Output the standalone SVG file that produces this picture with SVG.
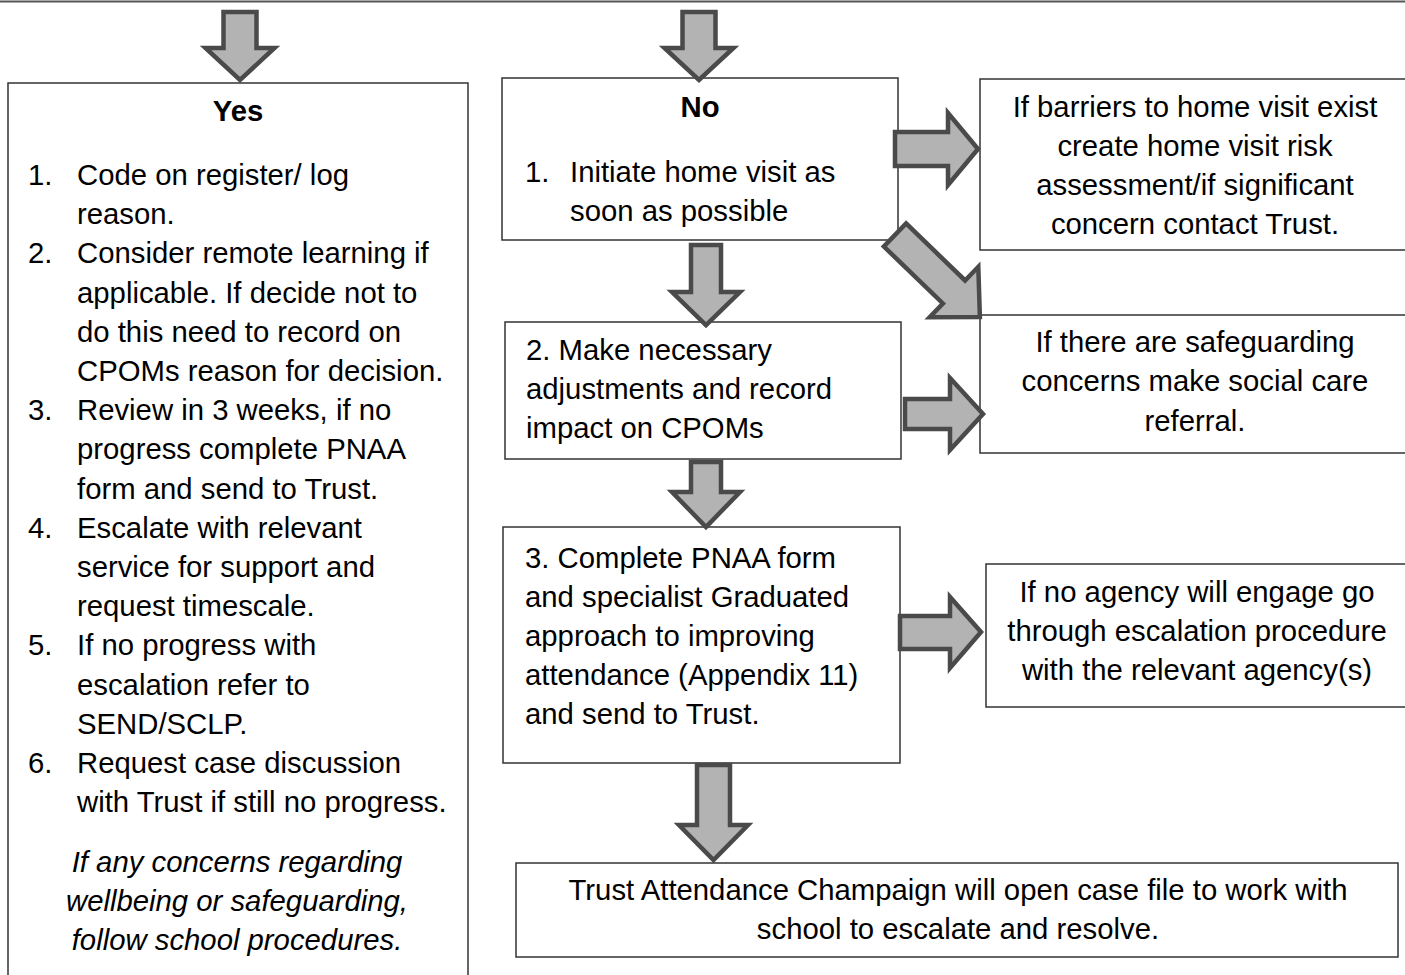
<svg xmlns="http://www.w3.org/2000/svg" width="1405" height="975" viewBox="0 0 1405 975">
<style>
.box{fill:#fff;stroke:#333;stroke-width:1.5}
.arr{fill:#b3b3b3;stroke:#4a4a4a;stroke-width:4.5;stroke-linejoin:miter}
text{font-family:"Liberation Sans",Arial,sans-serif;font-size:29.3px;fill:#000}
.b{font-weight:bold}
.c{text-anchor:middle}
.i{font-style:italic}
</style>
<rect width="1405" height="975" fill="#fff"/>
<line x1="0" y1="1.5" x2="1405" y2="1.5" stroke="#555" stroke-width="2"/>

<g id="yes">
<rect class="box" x="8" y="83" width="460" height="920"/>
<text class="b c" x="238" y="121">Yes</text>
<text x="28" y="185">1.</text><text x="77" y="185">Code on register/ log</text>
<text x="77" y="224.2">reason.</text>
<text x="28" y="263.4">2.</text><text x="77" y="263.4">Consider remote learning if</text>
<text x="77" y="302.6">applicable. If decide not to</text>
<text x="77" y="341.8">do this need to record on</text>
<text x="77" y="381">CPOMs reason for decision.</text>
<text x="28" y="420.2">3.</text><text x="77" y="420.2">Review in 3 weeks, if no</text>
<text x="77" y="459.4">progress complete PNAA</text>
<text x="77" y="498.6">form and send to Trust.</text>
<text x="28" y="537.8">4.</text><text x="77" y="537.8">Escalate with relevant</text>
<text x="77" y="577">service for support and</text>
<text x="77" y="616.2">request timescale.</text>
<text x="28" y="655.4">5.</text><text x="77" y="655.4">If no progress with</text>
<text x="77" y="694.6">escalation refer to</text>
<text x="77" y="733.8">SEND/SCLP.</text>
<text x="28" y="773">6.</text><text x="77" y="773">Request case discussion</text>
<text x="77" y="812.2">with Trust if still no progress.</text>
<text class="i c" x="237" y="872">If any concerns regarding</text>
<text class="i c" x="237" y="911.2">wellbeing or safeguarding,</text>
<text class="i c" x="237" y="950.4">follow school procedures.</text>
</g>

<g id="no">
<rect class="box" x="502" y="78" width="396" height="162"/>
<text class="b c" x="700" y="117">No</text>
<text x="525" y="182">1.</text><text x="570" y="182">Initiate home visit as</text>
<text x="570" y="221">soon as possible</text>
</g>

<g id="barriers">
<rect class="box" x="980" y="79" width="440" height="171"/>
<text class="c" x="1195" y="117">If barriers to home visit exist</text>
<text class="c" x="1195" y="156">create home visit risk</text>
<text class="c" x="1195" y="195">assessment/if significant</text>
<text class="c" x="1195" y="234">concern contact Trust.</text>
</g>

<g id="safeguarding">
<rect class="box" x="980" y="315" width="440" height="138"/>
<text class="c" x="1195" y="352">If there are safeguarding</text>
<text class="c" x="1195" y="391">concerns make social care</text>
<text class="c" x="1195" y="431">referral.</text>
</g>

<g id="adjust">
<rect class="box" x="505" y="322" width="396" height="137"/>
<text x="526" y="360">2.  Make necessary</text>
<text x="526" y="399">adjustments and record</text>
<text x="526" y="438">impact on CPOMs</text>
</g>

<g id="pnaa">
<rect class="box" x="503" y="527" width="397" height="236"/>
<text x="525" y="568">3. Complete PNAA form</text>
<text x="525" y="607">and specialist Graduated</text>
<text x="525" y="646">approach to improving</text>
<text x="525" y="685">attendance (Appendix 11)</text>
<text x="525" y="724">and send to Trust.</text>
</g>

<g id="agency">
<rect class="box" x="986" y="564" width="430" height="143"/>
<text class="c" x="1197" y="602">If no agency will engage go</text>
<text class="c" x="1197" y="641">through escalation procedure</text>
<text class="c" x="1197" y="680">with the relevant agency(s)</text>
</g>

<g id="trust">
<rect class="box" x="516" y="863" width="882" height="94"/>
<text class="c" x="958" y="900">Trust Attendance Champaign will open case file to work with</text>
<text class="c" x="958" y="939">school to escalate and resolve.</text>
</g>

<g id="connectors">
<path class="arr" d="M223.5,12 H256.5 V48 H274.5 L240,80 L205.5,48 H223.5 Z"/>
<path class="arr" d="M682.5,12 H715.5 V48 H733.5 L699,80 L664.5,48 H682.5 Z"/>
<path class="arr" d="M691,245 H721 V292 H740 L706,325 L672,292 H691 Z"/>
<path class="arr" d="M691,462 H721 V492 H740 L706,527 L672,492 H691 Z"/>
<path class="arr" d="M697,765 H730 V825 H748 L713.5,860 L679,825 H697 Z"/>
<path class="arr" d="M895,132 H948 V113 L978,149 L948,185 V166 H895 Z"/>
<path class="arr" d="M0,-16 H82 V-35 L118,0 L82,35 V16 H0 Z" transform="translate(895,235) rotate(44)"/>
<path class="arr" d="M905,399 H950 V378 L983,414 L950,450 V429 H905 Z"/>
<path class="arr" d="M900,616 H950 V597 L981,632 L950,668 V649 H900 Z"/>
</g>
</svg>
